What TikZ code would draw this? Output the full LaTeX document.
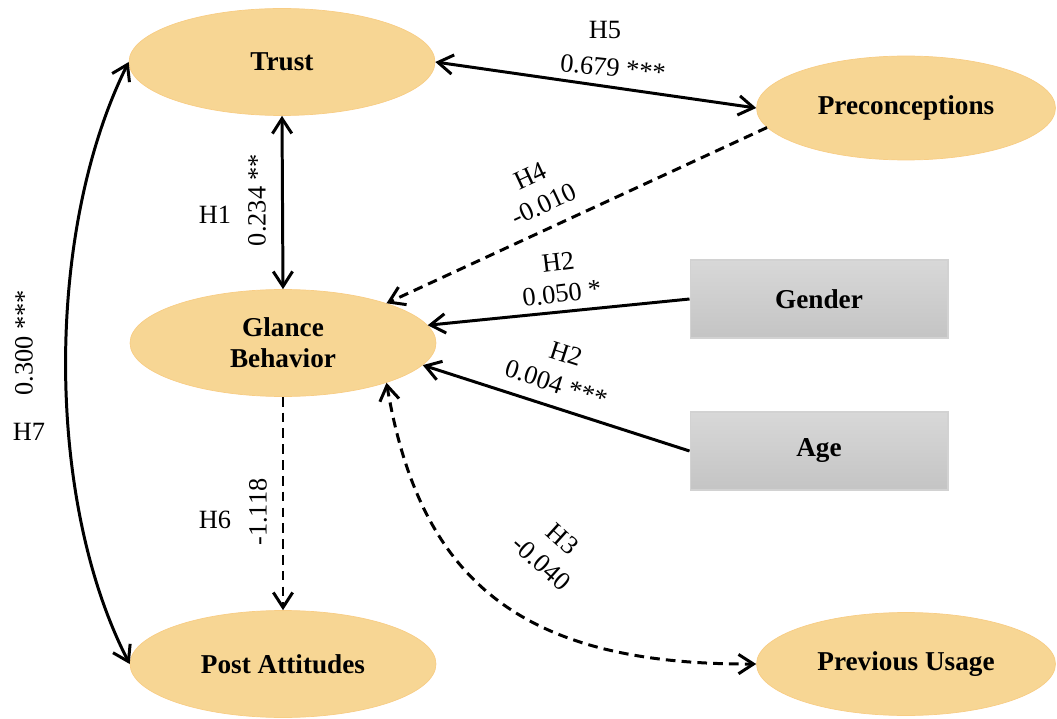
\documentclass[tikz,border=0pt]{standalone}
\usepackage{fontspec}
\setmainfont{Liberation Serif}
\usepackage{tikz}
\usetikzlibrary{arrows.meta,shapes}
\definecolor{latentfill}{RGB}{247,214,148}
\definecolor{boxtop}{RGB}{216,216,216}
\definecolor{boxbottom}{RGB}{196,196,196}
\tikzset{
    latent/.style={ellipse, fill=latentfill, draw=latentfill!90!orange, line width=0.4pt,
        minimum width=6.12cm, minimum height=2.14cm, inner sep=0pt, align=center,
        font=\fontsize{15.5}{17.5}\selectfont\bfseries},
    observed/.style={rectangle, top color=boxtop, bottom color=boxbottom, draw=gray!35,
        line width=0.6pt, minimum width=5.16cm, minimum height=1.56cm,
        font=\fontsize{15.5}{17.5}\selectfont\bfseries},
    coef/.style={font=\fontsize{15}{18}\selectfont, align=center, inner sep=1pt},
    effect/.style={draw=black, -{Straight Barb[length=8.5pt,width=11pt]}},
    effectdash/.style={effect, dash pattern=on 5.5pt off 3.5pt},
    covary/.style={draw=black, {Straight Barb[length=8.5pt,width=11pt]}-{Straight Barb[length=8.5pt,width=11pt]}},
    covarydash/.style={covary, dash pattern=on 5.5pt off 3.5pt},
}
\begin{document}
\begin{tikzpicture}[x=0.02cm, y=-0.02cm, line width=1.7pt]
	\useasboundingbox (0,0) rectangle (1057,719);
	% constructs
	\node[latent] (trust) at (282,62) {Trust};
	\node[latent] (glance) at (283,343) {Glance\\Behavior};
	\node[latent] (post) at (283,664) {Post Attitudes};
	\node[latent, minimum width=5.98cm, minimum height=2.08cm] (precon) at (906,108) {Preconceptions};
	\node[latent, minimum width=5.98cm, minimum height=2.06cm] (usage) at (906,664) {Previous Usage};
	\node[observed] (gender) at (819,299) {Gender};
	\node[observed] (age) at (819,451) {Age};
	% paths
	\draw[covary] (trust.south) -- (glance.north);
	\draw[covary] (trust.west) .. controls (45,230) and (45,500) .. (post.west);
	\draw[covary] (trust.east) -- (precon.west);
	\draw[effectdash] (precon.188) -- (glance.21);
	\draw[effect] (gender.west) -- (glance.7);
	\draw[effect] (age.west) -- (glance.-9);
	\draw[covarydash] (glance.-21) .. controls (420,580) and (520,665) .. (usage.west);
	\draw[effectdash] (glance.south) -- (post.north);
	% coefficients
	\node[coef] (h1) at (215,215) {H1};
	\node[coef, rotate=90] (c1) at (257,200) {0.234 **};
	\node[coef] (h6) at (215,520) {H6};
	\node[coef, rotate=90] (c6) at (258,512) {-1.118};
	\node[coef, rotate=90] (c7) at (24,343) {0.300 ***};
	\node[coef] (h7) at (29,432) {H7};
	\node[coef] (h5) at (605,30) {H5};
	\node[coef, rotate=-6] (c5) at (613,68) {0.679 ***};
	\node[coef, rotate=25] (c4) at (537,190) {H4\\-0.010};
	\node[coef, rotate=7] (c2a) at (560,278) {H2\\0.050 *};
	\node[coef, rotate=-18] (c2b) at (561,369) {H2\\0.004 ***};
	\node[coef, rotate=-42] (c3) at (552,551) {H3\\-0.040};
\end{tikzpicture}
\end{document}
